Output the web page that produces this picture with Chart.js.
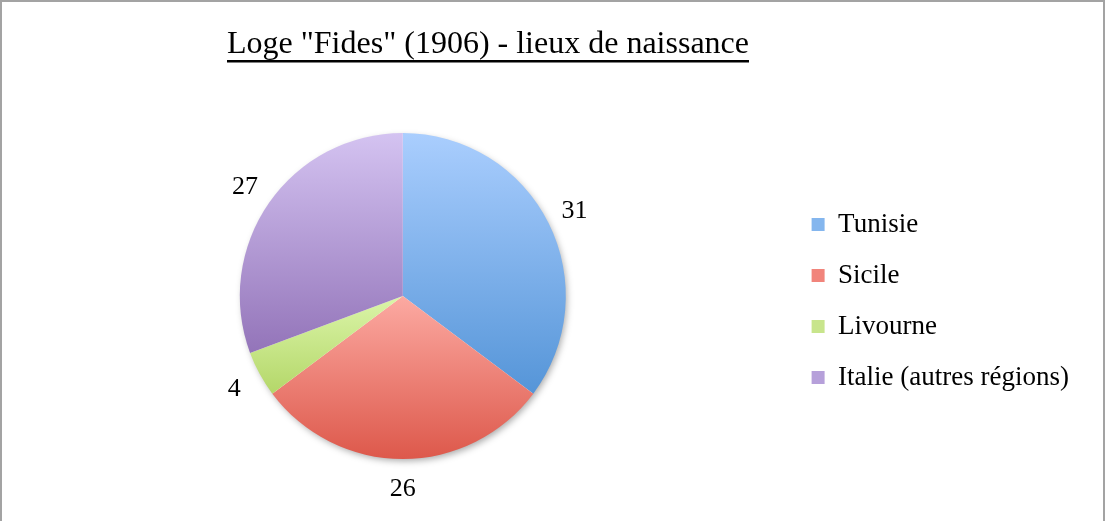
<!DOCTYPE html>
<html>
<head>
<meta charset="utf-8">
<title>Loge "Fides" (1906) - lieux de naissance</title>
<script src="https://cdn.jsdelivr.net/npm/chart.js@4/dist/chart.umd.min.js"></script>
<style>
html, body { margin: 0; padding: 0; background: #fff; }
#wrap { width: 1105px; height: 521px; position: relative; }
</style>
</head>
<body>
<div id="wrap"><canvas id="lieux"></canvas></div>
<script>
var titleText = 'Loge "Fides" (1906) - lieux de naissance';
var lieux = ['Tunisie', 'Sicile', 'Livourne', 'Italie (autres régions)'];
var membres = [31, 26, 4, 27];

// slice gradients go from the light colour at the top to the dark one at the bottom
var lightColors = ['#aacefe', '#fcaaa2', '#dbf5a9', '#d4c3f1'];
var darkColors = ['#5595d8', '#dd584b', '#b4d769', '#9374b9'];
var legendColors = ['#84b6ee', '#f1847b', '#c8e58c', '#b6a0da'];

Chart.defaults.font.family = '"Liberation Serif", "Times New Roman", serif';

function containsAngle(t, start, end) {
    var full = Math.PI * 2;
    var d = ((t - start) % full + full) % full;
    return d <= end - start;
}

// white background and the grey frame
var frame = {
    id: 'frame',
    beforeDraw: function(chart) {
        var ctx = chart.ctx;
        ctx.save();
        ctx.fillStyle = '#fff';
        ctx.fillRect(0, 0, chart.width, chart.height);
        ctx.strokeStyle = '#a3a3a3';
        ctx.lineWidth = 2;
        ctx.strokeRect(1, 1, chart.width - 2, chart.height + 10);
        ctx.restore();
    }
};

var sliceGradients = {
    id: 'sliceGradients',
    beforeDatasetsDraw: function(chart) {
        var ctx = chart.ctx;
        var arcs = chart.getDatasetMeta(0).data;
        if (!arcs.length) return;

        // soft shadow under the pie
        var a = arcs[0];
        ctx.save();
        ctx.shadowColor = 'rgba(0,0,0,0.35)';
        ctx.shadowBlur = 7;
        ctx.shadowOffsetX = 2;
        ctx.shadowOffsetY = 3;
        ctx.fillStyle = '#fff';
        ctx.beginPath();
        ctx.arc(a.x, a.y, a.outerRadius - 1, 0, Math.PI * 2);
        ctx.fill();
        ctx.restore();

        arcs.forEach(function(arc, i) {
            var top = arc.y, bottom = arc.y;
            [arc.startAngle, arc.endAngle].forEach(function(t) {
                var py = arc.y + arc.outerRadius * Math.sin(t);
                top = Math.min(top, py);
                bottom = Math.max(bottom, py);
            });
            if (containsAngle(-Math.PI / 2, arc.startAngle, arc.endAngle)) top = arc.y - arc.outerRadius;
            if (containsAngle(Math.PI / 2, arc.startAngle, arc.endAngle)) bottom = arc.y + arc.outerRadius;
            var g = ctx.createLinearGradient(0, top, 0, bottom);
            g.addColorStop(0, lightColors[i]);
            g.addColorStop(1, darkColors[i]);
            arc.options = Object.assign({}, arc.options, { backgroundColor: g });
        });
    }
};

// value labels outside each slice
var sliceValues = {
    id: 'sliceValues',
    afterDatasetsDraw: function(chart) {
        var ctx = chart.ctx;
        var arcs = chart.getDatasetMeta(0).data;
        ctx.save();
        ctx.font = '26px "Liberation Serif"';
        ctx.fillStyle = '#000';
        ctx.textAlign = 'center';
        ctx.textBaseline = 'middle';
        arcs.forEach(function(arc, i) {
            var mid = (arc.startAngle + arc.endAngle) / 2;
            var r = arc.outerRadius + 29;
            ctx.fillText(String(membres[i]), arc.x + r * Math.cos(mid), arc.y + 1 + r * Math.sin(mid));
        });
        ctx.restore();
    }
};

var underlinedTitle = {
    id: 'underlinedTitle',
    afterDraw: function(chart) {
        var ctx = chart.ctx;
        var x = 488;
        ctx.save();
        ctx.font = '32px "Liberation Serif"';
        ctx.fillStyle = '#000';
        ctx.textAlign = 'center';
        ctx.textBaseline = 'alphabetic';
        ctx.fillText(titleText, x, 53);
        var w = ctx.measureText(titleText).width;
        ctx.fillRect(x - w / 2, 60, w, 2.5);
        ctx.restore();
    }
};

var chart = new Chart(document.getElementById('lieux'), {
    type: 'pie',
    data: {
        labels: lieux,
        datasets: [{
            data: membres,
            backgroundColor: legendColors,
            borderWidth: 0
        }]
    },
    options: {
        responsive: true,
        maintainAspectRatio: false,
        animation: false,
        layout: { padding: { top: 133, bottom: 62, left: 18, right: 26 } },
        plugins: {
            legend: {
                position: 'right',
                // empty title only pushes the items down a little
                title: { display: true, text: ' ', padding: 0, font: { size: 10, lineHeight: 1 } },
                labels: {
                    boxWidth: 13,
                    boxHeight: 13,
                    padding: 24,
                    color: '#000',
                    font: { size: 27, family: '"Liberation Serif"' }
                }
            },
            tooltip: { enabled: false },
            title: { display: false }
        }
    },
    plugins: [frame, sliceGradients, sliceValues, underlinedTitle]
});
</script>
</body>
</html>
